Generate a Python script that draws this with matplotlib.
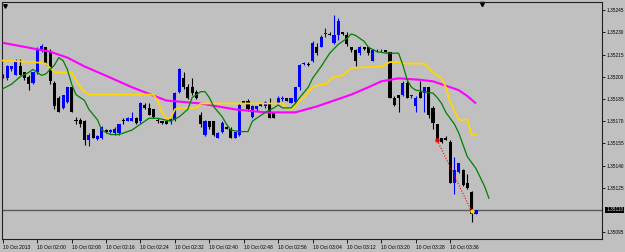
import numpy as np
import matplotlib.pyplot as plt
from matplotlib.transforms import blended_transform_factory

# M1 candles, 10 Oct 2013 01:52 .. 03:42
opens = [1.35201, 1.35199, 1.35205, 1.35201, 1.35207, 1.35203, 1.35200, 1.35196, 1.35203, 1.35218,
         1.35220, 1.35217, 1.35196, 1.35186, 1.35179, 1.35183, 1.35193, 1.35171, 1.35171, 1.35170,
         1.35157, 1.35165, 1.35158, 1.35159, 1.35164, 1.35163, 1.35162, 1.35162, 1.35171, 1.35170,
         1.35170, 1.35172, 1.35170, 1.35181, 1.35179, 1.35178, 1.35171, 1.35170, 1.35170, 1.35170,
         1.35171, 1.35190, 1.35199, 1.35193, 1.35193, 1.35190, 1.35174, 1.35161, 1.35170, 1.35170,
         1.35159, 1.35163, 1.35166, 1.35165, 1.35159, 1.35161, 1.35184, 1.35184, 1.35173, 1.35178,
         1.35182, 1.35180, 1.35182, 1.35176, 1.35182, 1.35185, 1.35186, 1.35182, 1.35183, 1.35193,
         1.35209, 1.35209, 1.35211, 1.35220, 1.35220, 1.35229, 1.35229, 1.35223, 1.35228, 1.35230,
         1.35228, 1.35220, 1.35218, 1.35216, 1.35220, 1.35220, 1.35211, 1.35218, 1.35218, 1.35218,
         1.35217, 1.35186, 1.35188, 1.35188, 1.35196, 1.35187, 1.35180, 1.35190, 1.35189, 1.35193,
         1.35179, 1.35168, 1.35159, 1.35159, 1.35156, 1.35128, 1.35136, 1.35137, 1.35128, 1.35122,
         1.35107]
highs = [1.35202, 1.35208, 1.35207, 1.35212, 1.35212, 1.35203, 1.35201, 1.35203, 1.35220, 1.35222,
         1.35220, 1.35219, 1.35197, 1.35187, 1.35188, 1.35193, 1.35193, 1.35173, 1.35172, 1.35171,
         1.35162, 1.35165, 1.35161, 1.35167, 1.35165, 1.35165, 1.35166, 1.35168, 1.35172, 1.35173,
         1.35176, 1.35173, 1.35183, 1.35182, 1.35182, 1.35178, 1.35172, 1.35170, 1.35170, 1.35173,
         1.35190, 1.35206, 1.35203, 1.35195, 1.35199, 1.35191, 1.35176, 1.35171, 1.35170, 1.35170,
         1.35163, 1.35170, 1.35167, 1.35166, 1.35163, 1.35182, 1.35184, 1.35185, 1.35181, 1.35180,
         1.35182, 1.35184, 1.35186, 1.35176, 1.35187, 1.35187, 1.35186, 1.35186, 1.35193, 1.35209,
         1.35210, 1.35210, 1.35224, 1.35223, 1.35228, 1.35233, 1.35230, 1.35242, 1.35240, 1.35230,
         1.35230, 1.35220, 1.35219, 1.35221, 1.35220, 1.35220, 1.35219, 1.35219, 1.35219, 1.35218,
         1.35217, 1.35187, 1.35188, 1.35197, 1.35197, 1.35188, 1.35187, 1.35197, 1.35193, 1.35193,
         1.35180, 1.35168, 1.35159, 1.35160, 1.35157, 1.35146, 1.35142, 1.35138, 1.35134, 1.35123,
         1.35110]
lows = [1.35199, 1.35198, 1.35204, 1.35201, 1.35201, 1.35198, 1.35191, 1.35195, 1.35202, 1.35217,
        1.35208, 1.35195, 1.35178, 1.35176, 1.35178, 1.35182, 1.35176, 1.35168, 1.35166, 1.35154,
        1.35153, 1.35159, 1.35157, 1.35158, 1.35162, 1.35162, 1.35161, 1.35161, 1.35168, 1.35170,
        1.35170, 1.35168, 1.35169, 1.35178, 1.35174, 1.35172, 1.35169, 1.35168, 1.35168, 1.35168,
        1.35170, 1.35189, 1.35192, 1.35185, 1.35188, 1.35185, 1.35166, 1.35160, 1.35165, 1.35160,
        1.35159, 1.35162, 1.35165, 1.35159, 1.35159, 1.35160, 1.35182, 1.35177, 1.35172, 1.35177,
        1.35180, 1.35179, 1.35172, 1.35172, 1.35182, 1.35184, 1.35184, 1.35182, 1.35182, 1.35191,
        1.35208, 1.35207, 1.35210, 1.35215, 1.35220, 1.35227, 1.35228, 1.35222, 1.35225, 1.35228,
        1.35221, 1.35217, 1.35207, 1.35215, 1.35218, 1.35215, 1.35211, 1.35217, 1.35217, 1.35217,
        1.35186, 1.35180, 1.35176, 1.35187, 1.35186, 1.35186, 1.35176, 1.35186, 1.35176, 1.35172,
        1.35165, 1.35157, 1.35155, 1.35157, 1.35128, 1.35121, 1.35135, 1.35126, 1.35124, 1.35102,
        1.35107]
closes = [1.35199, 1.35207, 1.35207, 1.35210, 1.35201, 1.35199, 1.35195, 1.35203, 1.35218, 1.35221,
          1.35209, 1.35197, 1.35180, 1.35176, 1.35188, 1.35193, 1.35176, 1.35170, 1.35168, 1.35157,
          1.35161, 1.35159, 1.35160, 1.35166, 1.35163, 1.35164, 1.35165, 1.35168, 1.35170, 1.35172,
          1.35172, 1.35169, 1.35182, 1.35179, 1.35174, 1.35173, 1.35170, 1.35169, 1.35168, 1.35172,
          1.35189, 1.35205, 1.35193, 1.35186, 1.35189, 1.35186, 1.35168, 1.35170, 1.35166, 1.35161,
          1.35162, 1.35169, 1.35165, 1.35159, 1.35163, 1.35181, 1.35182, 1.35178, 1.35180, 1.35180,
          1.35180, 1.35183, 1.35172, 1.35172, 1.35186, 1.35186, 1.35184, 1.35186, 1.35193, 1.35208,
          1.35209, 1.35208, 1.35223, 1.35216, 1.35227, 1.35229, 1.35228, 1.35228, 1.35238, 1.35229,
          1.35222, 1.35218, 1.35211, 1.35220, 1.35219, 1.35216, 1.35218, 1.35218, 1.35218, 1.35217,
          1.35186, 1.35181, 1.35186, 1.35196, 1.35186, 1.35187, 1.35186, 1.35186, 1.35193, 1.35174,
          1.35169, 1.35157, 1.35156, 1.35157, 1.35128, 1.35137, 1.35142, 1.35127, 1.35125, 1.35107,
          1.35110]

# indicator lines, read at the bars where they bend
ma_fast_bars = [0, 2, 4, 6, 7, 8, 9, 10, 12, 13, 14, 15, 16, 17, 19, 20, 22, 23, 25, 27,
                30, 32, 34, 36, 39, 41, 43, 44, 46, 47, 48, 49, 51, 52, 53, 55, 57, 58, 60, 61,
                63, 64, 65, 67, 68, 69, 71, 72, 74, 76, 78, 80, 81, 82, 84, 85, 87, 89, 92, 93,
                94, 95, 96, 98, 100, 101, 102, 103, 105, 106, 108, 109, 110, 111, 112, 113]
ma_fast = [1.35192, 1.35195, 1.35200, 1.35203, 1.35205, 1.35203, 1.35201, 1.35202, 1.35208, 1.35213,
           1.35211, 1.35205, 1.35195, 1.35188, 1.35184, 1.35178, 1.35171, 1.35164, 1.35161, 1.35161,
           1.35164, 1.35168, 1.35172, 1.35172, 1.35170, 1.35173, 1.35178, 1.35186, 1.35190, 1.35190,
           1.35186, 1.35180, 1.35173, 1.35168, 1.35164, 1.35163, 1.35163, 1.35170, 1.35174, 1.35176,
           1.35179, 1.35181, 1.35179, 1.35179, 1.35182, 1.35186, 1.35193, 1.35199, 1.35207, 1.35216,
           1.35222, 1.35226, 1.35229, 1.35228, 1.35224, 1.35220, 1.35217, 1.35216, 1.35216, 1.35208,
           1.35198, 1.35193, 1.35191, 1.35190, 1.35189, 1.35186, 1.35182, 1.35176, 1.35168, 1.35162,
           1.35146, 1.35142, 1.35138, 1.35132, 1.35126, 1.35118]

step_bars = [0, 7, 10, 11, 12, 16, 17, 18, 19, 20, 35, 36, 37, 38, 39, 40, 41, 45, 46,
             65, 66, 67, 68, 69, 70, 71, 72, 73, 74, 75, 76, 77, 79, 81, 88, 90, 92, 93,
             98, 100, 102, 103, 104, 106, 108, 109, 110]
step_line = [1.35211, 1.35210, 1.35209, 1.35206, 1.35203, 1.35203, 1.35198, 1.35193, 1.35190, 1.35188,
             1.35188, 1.35184, 1.35176, 1.35172, 1.35172, 1.35178, 1.35179, 1.35179, 1.35182,
             1.35182, 1.35179, 1.35178, 1.35180, 1.35184, 1.35186, 1.35190, 1.35193, 1.35194, 1.35195,
             1.35195, 1.35198, 1.35200, 1.35201, 1.35206, 1.35207, 1.35210, 1.35210, 1.35209,
             1.35209, 1.35203, 1.35199, 1.35193, 1.35183, 1.35171, 1.35171, 1.35161, 1.35161]

ma_slow_bars = [0, 11, 15, 19, 23, 30, 38, 46, 54, 61, 68, 73, 77, 81, 85, 88, 92, 97, 100, 102,
                106, 108, 110]
ma_slow = [1.35223, 1.35217, 1.35213, 1.35207, 1.35202, 1.35193, 1.35184, 1.35182, 1.35178, 1.35176,
           1.35176, 1.35180, 1.35184, 1.35188, 1.35193, 1.35197, 1.35199, 1.35198, 1.35197, 1.35195,
           1.35191, 1.35187, 1.35182]

zigzag_bars = [101, 109]
zigzag_prices = [1.35157, 1.35109]

bid = 1.35110
price_ticks = [1.35095, 1.35125, 1.35140, 1.35155, 1.35170, 1.35185, 1.35200, 1.35215, 1.35230, 1.35245]
time_ticks = [0, 8, 16, 24, 32, 40, 48, 56, 64, 72, 80, 88, 96, 104]
time_labels = ['10 Oct 2013', '10 Oct 02:00', '10 Oct 02:08', '10 Oct 02:16', '10 Oct 02:24',
               '10 Oct 02:32', '10 Oct 02:40', '10 Oct 02:48', '10 Oct 02:56', '10 Oct 03:04',
               '10 Oct 03:12', '10 Oct 03:20', '10 Oct 03:28', '10 Oct 03:36']

plt.rcParams['font.family'] = ['Liberation Sans', 'DejaVu Sans']
bg = '#c0c0c0'

fig = plt.figure(figsize=(6.25, 2.52), dpi=100, facecolor=bg)
ax = fig.add_axes([0.0032, 0.0516, 0.96, 0.9405], facecolor=bg)

o = np.array(opens); h = np.array(highs); l = np.array(lows); c = np.array(closes)
x = np.arange(len(o))
up = c >= o
col = np.where(up, '#0000ff', '#000000')

# candles
ax.vlines(x, l, h, colors=col, lw=0.8, zorder=2)
body = np.maximum(np.abs(c - o), 0.000004)
ax.bar(x, body, bottom=np.minimum(o, c), width=0.72, color=col, linewidth=0, zorder=2)

# indicators
ax.plot(ma_slow_bars, ma_slow, color='#ff00ff', lw=1.5, zorder=3, solid_capstyle='butt')
ax.plot(step_bars, step_line, color='#ffd700', lw=1.3, zorder=3)
ax.plot(ma_fast_bars, ma_fast, color='#008000', lw=0.9, zorder=3)

ax.plot(zigzag_bars, zigzag_prices, color='#ff0000', lw=0.8, ls=(0, (1, 1.5)), zorder=4)
ax.plot(zigzag_bars[0], zigzag_prices[0], 'o', ms=2.2, color='#ff0000', zorder=5)
ax.plot(zigzag_bars[1], zigzag_prices[1], 'o', ms=2.2, color='#ffd700', zorder=5)

# bid line
ax.axhline(bid, color='#5a5a5a', lw=1.0, zorder=1)

ax.set_xlim(-0.2, 139.3)
ax.set_ylim(1.350904, 1.352506)

for s in ax.spines.values():
    s.set_color('#202020')
    s.set_linewidth(0.8)

ax.yaxis.tick_right()
ax.set_yticks(price_ticks)
ax.set_yticklabels(['%.5f' % p for p in price_ticks])
ax.tick_params(axis='y', length=2.5, width=0.6, pad=1, labelsize=3.4, colors='black')
ax.set_xticks(time_ticks)
ax.set_xticklabels(time_labels)
ax.tick_params(axis='x', length=3, width=0.6, pad=1, labelsize=3.6, colors='black')
for t in ax.get_xticklabels():
    t.set_horizontalalignment('left')

tr = blended_transform_factory(ax.transAxes, ax.transData)
ax.annotate('%.5f' % bid, xy=(1.0, bid), xycoords=tr, xytext=(3, 0), textcoords='offset points',
            ha='left', va='center', fontsize=3.4, color='#d8d8d8',
            bbox=dict(facecolor='black', edgecolor='none', pad=0.6), annotation_clip=False)

# little chart markers
ax.plot(0.005, 0.985, 'v', ms=2.5, color='black', transform=ax.transAxes, clip_on=False)
trx = blended_transform_factory(ax.transData, ax.transAxes)
ax.plot(111.3, 0.992, 'v', ms=3, color='black', transform=trx, clip_on=False)

fig.savefig('out.png', dpi=100, facecolor=bg)
